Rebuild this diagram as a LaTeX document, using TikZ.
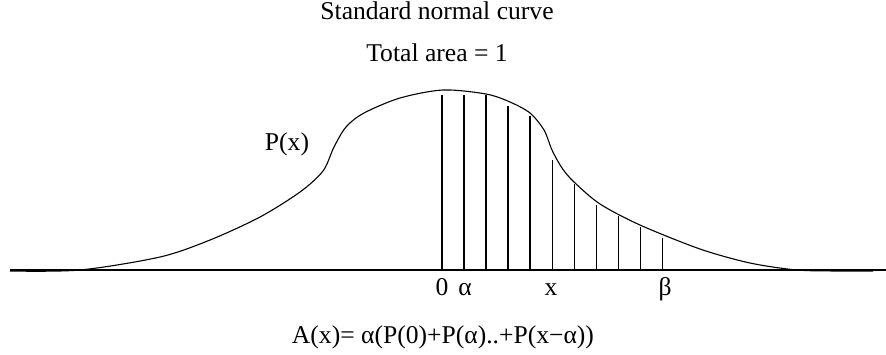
\documentclass[tikz,border=0pt]{standalone}
\usepackage{fontspec}
\setmainfont{Liberation Serif}
\usetikzlibrary{positioning}

\begin{document}
\begin{tikzpicture}[
  x=0.5pt, y=-0.5pt,
  lbl/.style={font=\fontsize{12.8}{15}\selectfont, inner sep=0pt},
  curve/.style={line width=0.55pt},
  axis/.style={line width=0.7pt},
  strip/.style={line width=0.55pt},
  thinstrip/.style={line width=0.4pt}
]
\useasboundingbox (0,0) rectangle (886,354);

% axis and density curve
\draw[axis] (10,270) -- (886,270);
\draw[curve] plot[smooth, tension=0.5] coordinates {
  (10,271) (80,270) (160,257) (210,240) (260,217) (300,192)
  (323,171) (334,147) (346,127) (364,113) (400,98)
  (443,90) (486,94) (510,102) (530,113) (544,130) (552,150) (562,168)
  (574,182) (600,204) (640,225) (700,249) (750,263) (797,270) (840,271)
  (873,271)};

% strips under the curve
\foreach \xs/\ys in {442/95, 464/95, 486/95, 508/106, 530/116}
  \draw[strip] (\xs,270) -- (\xs,\ys);
\foreach \xs/\ys in {552/160, 574/184, 596/205, 618/216, 640/227, 662/238}
  \draw[thinstrip] (\xs,270) -- (\xs,\ys);

% labels
\node[lbl, anchor=base] (title) at (437,19) {Standard normal curve};
\node[lbl, anchor=base] (area) at (437,61) {Total area = 1};
\node[lbl, anchor=base] (px) at (287,150) {P(x)};
\node[lbl, anchor=base] (zero) at (442,295) {0};
\node[lbl, anchor=base] (alpha) at (465,295) {α};
\node[lbl, anchor=base] (xpos) at (551,295) {x};
\node[lbl, anchor=base] (beta) at (665,295) {β};
\node[lbl, anchor=base] (formula) at (443,343) {A(x)= α(P(0)+P(α)..+P(x−α))};

\end{tikzpicture}
\end{document}
